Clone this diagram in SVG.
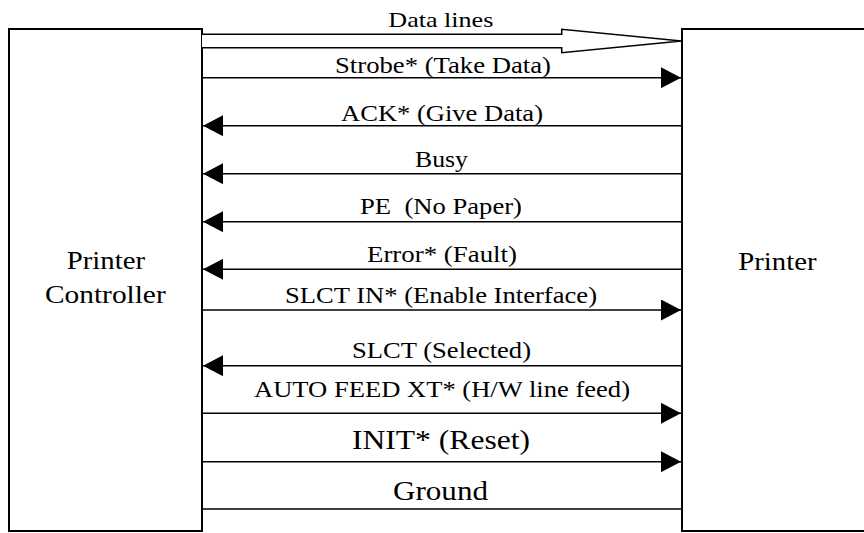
<svg xmlns="http://www.w3.org/2000/svg" width="864" height="533" viewBox="0 0 864 533">
  <style>
    .box { fill: #ffffff; stroke: #000000; stroke-width: 2; }
    .wire { stroke: #000000; stroke-width: 1.5; fill: none; }
    .bus { stroke: #000000; stroke-width: 1.5; fill: #ffffff; stroke-linejoin: miter; }
    text { font-family: 'Liberation Serif', 'Times New Roman', serif; fill: #000000; }
    .lbl { font-size: 22.5px; }
    .big { font-size: 27px; }
    .name { font-size: 24.5px; }
  </style>
  <defs>
    <marker id="head" markerUnits="userSpaceOnUse" markerWidth="20" markerHeight="21" refX="20" refY="10.5" orient="auto" viewBox="0 0 20 21">
      <path d="M0,0 L20,10.5 L0,21 z" fill="#000000"/>
    </marker>
  </defs>
  <rect width="864" height="533" fill="#ffffff"/>

  <!-- end devices -->
  <g id="printer-controller">
    <rect class="box" x="9" y="29" width="193" height="502"/>
    <text class="name" x="66.7" y="269.3" textLength="78.3" lengthAdjust="spacingAndGlyphs">Printer</text>
    <text class="name" x="45" y="302.7" textLength="120.7" lengthAdjust="spacingAndGlyphs">Controller</text>
  </g>
  <g id="printer">
    <rect class="box" x="682" y="29" width="200" height="502"/>
    <text class="name" x="738.3" y="270" textLength="78.3" lengthAdjust="spacingAndGlyphs">Printer</text>
  </g>

  <!-- interface signals -->
  <g id="connectors">
    <g id="data-lines">
      <polyline class="bus" points="202,34.3 561.7,34.3 561.7,29.3 681.5,41 561.7,52.7 561.7,47.7 202,47.7"/>
      <text x="388.3" y="26.5" font-size="21" textLength="105" lengthAdjust="spacingAndGlyphs">Data lines</text>
    </g>
    <g id="strobe">
      <line class="wire" x1="202" y1="77.7" x2="681" y2="77.7" marker-end="url(#head)"/>
      <text class="lbl" x="335" y="72.5" textLength="216" lengthAdjust="spacingAndGlyphs">Strobe* (Take Data)</text>
    </g>
    <g id="ack">
      <line class="wire" x1="682" y1="125.7" x2="203" y2="125.7" marker-end="url(#head)"/>
      <text class="lbl" x="341" y="121" textLength="202" lengthAdjust="spacingAndGlyphs">ACK* (Give Data)</text>
    </g>
    <g id="busy">
      <line class="wire" x1="682" y1="173.7" x2="203" y2="173.7" marker-end="url(#head)"/>
      <text class="lbl" x="415" y="166.7" textLength="53" lengthAdjust="spacingAndGlyphs">Busy</text>
    </g>
    <g id="pe">
      <line class="wire" x1="682" y1="221.7" x2="203" y2="221.7" marker-end="url(#head)"/>
      <text class="lbl" x="360" y="214.3" textLength="162" lengthAdjust="spacingAndGlyphs" xml:space="preserve">PE  (No Paper)</text>
    </g>
    <g id="error">
      <line class="wire" x1="682" y1="269.3" x2="203" y2="269.3" marker-end="url(#head)"/>
      <text class="lbl" x="367" y="261.7" textLength="150" lengthAdjust="spacingAndGlyphs">Error* (Fault)</text>
    </g>
    <g id="slct-in">
      <line class="wire" x1="202" y1="310" x2="681" y2="310" marker-end="url(#head)"/>
      <text class="lbl" x="285" y="303.3" textLength="312" lengthAdjust="spacingAndGlyphs">SLCT IN* (Enable Interface)</text>
    </g>
    <g id="slct">
      <line class="wire" x1="682" y1="365.7" x2="203" y2="365.7" marker-end="url(#head)"/>
      <text class="lbl" x="352" y="358" textLength="179" lengthAdjust="spacingAndGlyphs">SLCT (Selected)</text>
    </g>
    <g id="auto-feed">
      <line class="wire" x1="202" y1="413.3" x2="681" y2="413.3" marker-end="url(#head)"/>
      <text class="lbl" x="254" y="396.7" textLength="376" lengthAdjust="spacingAndGlyphs">AUTO FEED XT* (H/W line feed)</text>
    </g>
    <g id="init">
      <line class="wire" x1="202" y1="461.7" x2="681" y2="461.7" marker-end="url(#head)"/>
      <text class="big" x="352" y="449.3" textLength="178" lengthAdjust="spacingAndGlyphs">INIT* (Reset)</text>
    </g>
    <g id="ground">
      <line class="wire" x1="202" y1="509" x2="682" y2="509"/>
      <text class="big" x="393" y="500" textLength="95" lengthAdjust="spacingAndGlyphs">Ground</text>
    </g>
  </g>
</svg>
